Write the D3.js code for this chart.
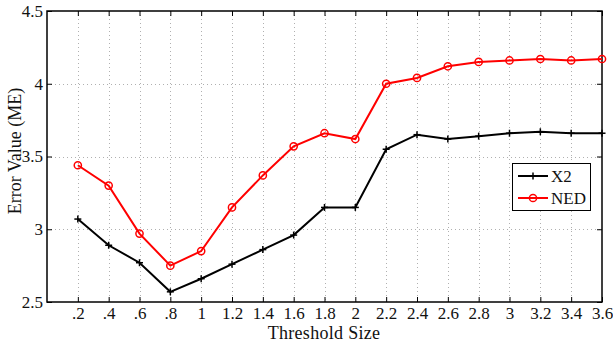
<!DOCTYPE html>
<html>
<head>
<meta charset="utf-8">
<script src="https://cdn.jsdelivr.net/npm/d3@7/dist/d3.min.js"></script>
<style>
  html, body { margin: 0; padding: 0; background: #fff; }
  svg { display: block; font-family: "Liberation Serif", "DejaVu Serif", serif; }
</style>
</head>
<body>
<svg id="chart" width="613" height="343"></svg>
<script>
// Threshold sizes along the x axis
const thresholds = [0.2, 0.4, 0.6, 0.8, 1.0, 1.2, 1.4, 1.6, 1.8, 2.0, 2.2, 2.4, 2.6, 2.8, 3.0, 3.2, 3.4, 3.6];
const xTickLabels = [".2", ".4", ".6", ".8", "1", "1.2", "1.4", "1.6", "1.8", "2", "2.2", "2.4", "2.6", "2.8", "3", "3.2", "3.4", "3.6"];
const yTicks = [2.5, 3, 3.5, 4, 4.5];
const yTickLabels = ["2.5", "3", "3.5", "4", "4.5"];

// Error values (ME) per method
const x2Values  = [3.07, 2.89, 2.77, 2.57, 2.66, 2.76, 2.86, 2.96, 3.15, 3.15, 3.55, 3.65, 3.62, 3.64, 3.66, 3.67, 3.66, 3.66];
const nedValues = [3.44, 3.30, 2.97, 2.75, 2.85, 3.15, 3.37, 3.57, 3.66, 3.62, 4.00, 4.04, 4.12, 4.15, 4.16, 4.17, 4.16, 4.17];

const svg = d3.select("#chart");
const L = 47, R = 602, T = 11, B = 302;
const FS = 17;

const x = d3.scaleLinear().domain([0, 3.6]).range([L, R]);
const y = d3.scaleLinear().domain([2.5, 4.5]).range([B, T]);

// Dotted grid
const grid = svg.append("g").attr("stroke", "#b0b0b0").attr("stroke-width", 1).attr("stroke-dasharray", "1,3");
grid.selectAll("line.v").data(thresholds.slice(0, -1)).join("line")
  .attr("x1", d => Math.round(x(d)) + 0.5).attr("x2", d => Math.round(x(d)) + 0.5)
  .attr("y1", T).attr("y2", B);
grid.selectAll("line.h").data(yTicks.slice(1, -1)).join("line")
  .attr("x1", L).attr("x2", R)
  .attr("y1", d => Math.round(y(d)) + 0.5).attr("y2", d => Math.round(y(d)) + 0.5);

// Axes with inward ticks on all four sides
const xAxisB = d3.axisBottom(x).tickValues(thresholds).tickFormat((d, i) => xTickLabels[i]).tickSizeInner(-5).tickSizeOuter(0).tickPadding(6);
const xAxisT = d3.axisTop(x).tickValues(thresholds).tickFormat("").tickSizeInner(-5).tickSizeOuter(0);
const yAxisL = d3.axisLeft(y).tickValues(yTicks).tickFormat((d, i) => yTickLabels[i]).tickSizeInner(-5).tickSizeOuter(0).tickPadding(4);
const yAxisR = d3.axisRight(y).tickValues(yTicks).tickFormat("").tickSizeInner(-5).tickSizeOuter(0);

function styleAxis(g) {
  g.select(".domain").remove();
  g.selectAll(".tick line").attr("stroke", "#000");
  g.selectAll("text").attr("font-family", "Liberation Serif, serif").attr("font-size", FS).attr("fill", "#111");
}
svg.append("g").attr("transform", `translate(0,${B})`).call(xAxisB).call(styleAxis)
  .selectAll("text").attr("dy", null).attr("y", 17);
svg.append("g").attr("transform", `translate(0,${T})`).call(xAxisT).call(styleAxis);
svg.append("g").attr("transform", `translate(${L},0)`).call(yAxisL).call(styleAxis);
svg.append("g").attr("transform", `translate(${R},0)`).call(yAxisR).call(styleAxis);

// Frame
svg.append("rect").attr("x", L).attr("y", T).attr("width", R - L).attr("height", B - T)
  .attr("fill", "none").attr("stroke", "#000").attr("stroke-width", 1.5);

// Series
const line = d3.line().x((d, i) => x(thresholds[i])).y(d => y(d));

svg.append("path").datum(x2Values).attr("d", line)
  .attr("fill", "none").attr("stroke", "#000").attr("stroke-width", 2);
svg.append("path").datum(nedValues).attr("d", line)
  .attr("fill", "none").attr("stroke", "#ff0000").attr("stroke-width", 2);

function plus(g, cx, cy, s, color) {
  g.append("line").attr("x1", cx - s).attr("x2", cx + s).attr("y1", cy).attr("y2", cy).attr("stroke", color).attr("stroke-width", 1.5);
  g.append("line").attr("x1", cx).attr("x2", cx).attr("y1", cy - s).attr("y2", cy + s).attr("stroke", color).attr("stroke-width", 1.5);
}
const pm = svg.append("g");
x2Values.forEach((v, i) => plus(pm, x(thresholds[i]), y(v), 3.5, "#000"));

svg.append("g").selectAll("circle").data(nedValues).join("circle")
  .attr("cx", (d, i) => x(thresholds[i])).attr("cy", d => y(d)).attr("r", 3.6)
  .attr("fill", "none").attr("stroke", "#ff0000").attr("stroke-width", 1.5);

// Legend
const lg = svg.append("g");
lg.append("rect").attr("x", 512.5).attr("y", 163.5).attr("width", 78).attr("height", 47)
  .attr("fill", "#fff").attr("stroke", "#000").attr("stroke-width", 1);
lg.append("line").attr("x1", 518).attr("x2", 548).attr("y1", 176).attr("y2", 176).attr("stroke", "#000").attr("stroke-width", 2);
plus(lg, 533, 176, 3.5, "#000");
lg.append("text").attr("x", 551).attr("y", 182).attr("font-size", FS).attr("fill", "#111").text("X2");
lg.append("line").attr("x1", 518).attr("x2", 548).attr("y1", 198).attr("y2", 198).attr("stroke", "#ff0000").attr("stroke-width", 2);
lg.append("circle").attr("cx", 533).attr("cy", 198).attr("r", 3.6).attr("fill", "none").attr("stroke", "#ff0000").attr("stroke-width", 1.5);
lg.append("text").attr("x", 551).attr("y", 204).attr("font-size", FS).attr("fill", "#111").text("NED");

// Axis titles
svg.append("text").attr("x", 324).attr("y", 339).attr("text-anchor", "middle")
  .attr("font-size", 18).attr("letter-spacing", 0.3).attr("fill", "#111").text("Threshold Size");
svg.append("text").attr("transform", `translate(21,151) rotate(-90)`).attr("text-anchor", "middle")
  .attr("font-size", 18).attr("fill", "#111").text("Error Value (ME)");
</script>
</body>
</html>
